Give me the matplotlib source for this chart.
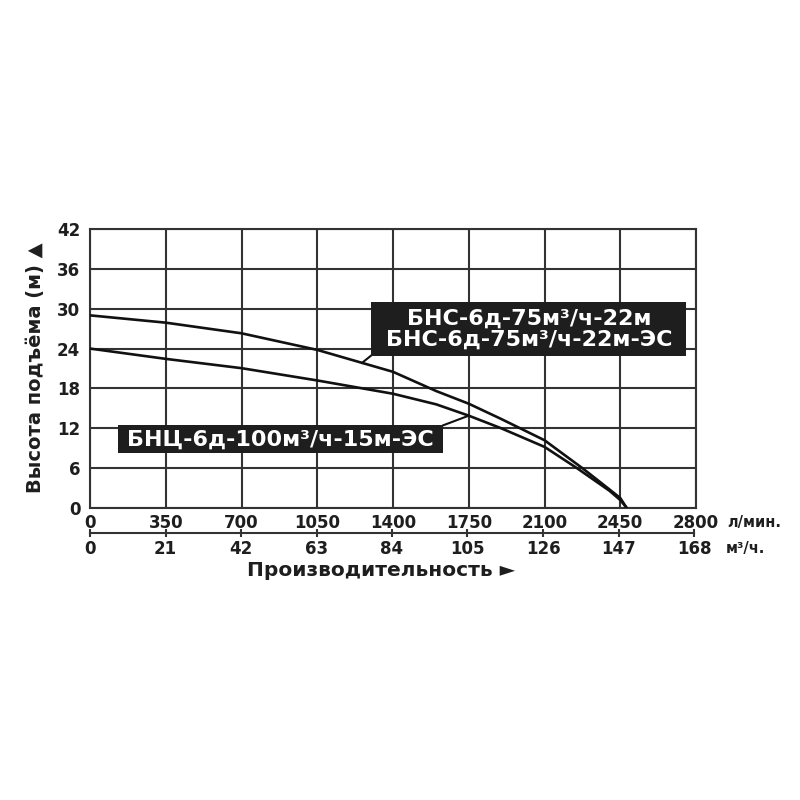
import matplotlib
matplotlib.use("Agg")
import matplotlib.pyplot as plt
from matplotlib.patches import Rectangle

plt.rcParams['font.family'] = ['DejaVu Sans']

# Data
flow_lmin_ticks = [0, 350, 700, 1050, 1400, 1750, 2100, 2450, 2800]
flow_m3h_ticks = [0, 21, 42, 63, 84, 105, 126, 147, 168]
head_ticks = [0, 6, 12, 18, 24, 30, 36, 42]

bns_q = [0, 350, 700, 1050, 1400, 1600, 1750, 1900, 2100, 2275, 2400, 2450, 2480]
bns_h = [29, 27.9, 26.3, 23.8, 20.5, 17.6, 15.7, 13.4, 10.2, 6.0, 2.8, 1.5, 0]

bnc_q = [0, 350, 700, 1050, 1400, 1600, 1750, 1900, 2100, 2250, 2400, 2450, 2480]
bnc_h = [24, 22.45, 21.05, 19.2, 17.2, 15.6, 13.9, 12.0, 9.2, 6.0, 2.6, 1.2, 0]

label_bns = "БНС-6д-75м³/ч-22м\nБНС-6д-75м³/ч-22м-ЭС"
label_bnc = "БНЦ-6д-100м³/ч-15м-ЭС"

fig = plt.figure(figsize=(8, 8), dpi=100)
ax = fig.add_axes([90/800, 1-508/800, 606/800, 279/800])
ax.set_xlim(0, 2800)
ax.set_ylim(0, 42)

grid_c = '#333333'
txt_c = '#1e1e1e'
ax.set_xticks(flow_lmin_ticks)
ax.set_yticks(head_ticks)
ax.grid(True, color=grid_c, linewidth=1.5)
for s in ax.spines.values():
    s.set_color(grid_c)
    s.set_linewidth(1.5)
ax.tick_params(axis='both', length=0, colors=txt_c)
ax.tick_params(axis='x', pad=4, labelsize=12)
ax.tick_params(axis='y', pad=7, labelsize=12)
for t in ax.get_xticklabels() + ax.get_yticklabels():
    t.set_fontweight('bold')

ax.plot(bns_q, bns_h, color='#111111', linewidth=1.9, zorder=3, solid_capstyle='round')
ax.plot(bnc_q, bnc_h, color='#111111', linewidth=1.9, zorder=3, solid_capstyle='round')

box_c = '#1e1e1e'
# upper label box
ax.add_patch(Rectangle((1299, 22.95), 2755.6-1299, 30.95-22.95, facecolor=box_c,
                       edgecolor='none', zorder=5, clip_on=False))
ax.text((1299+2755.6)/2, (22.95+30.95)/2, label_bns, color='white', fontsize=16,
        fontweight='bold', ha='center', va='center', zorder=6, linespacing=1.05)
ax.plot([1299, 1257], [22.95, 21.85], color='#111111', linewidth=1.5, zorder=4)

# lower label box
ax.add_patch(Rectangle((129.5, 8.25), 1632-129.5, 12.45-8.25, facecolor=box_c,
                       edgecolor='none', zorder=5, clip_on=False))
ax.text((129.5+1632)/2, (8.25+12.45)/2 - 0.1, label_bnc, color='white', fontsize=16,
        fontweight='bold', ha='center', va='center', zorder=6)
ax.plot([1632, 1750], [12.45, 13.9], color='#111111', linewidth=1.5, zorder=4)

# secondary flow scale (m3/h)
ax2 = fig.add_axes([90/800, 1-533/800, 604/800, 0.0001])
ax2.set_xlim(0, 168)
ax2.set_xticks(flow_m3h_ticks)
ax2.set_yticks([])
for k in ['top', 'left', 'right']:
    ax2.spines[k].set_visible(False)
ax2.spines['bottom'].set_color(grid_c)
ax2.spines['bottom'].set_linewidth(1.5)
ax2.patch.set_visible(False)
ax2.tick_params(axis='x', direction='inout', length=6, width=1.5, color=grid_c,
                pad=2, labelsize=12, labelcolor=txt_c)
for t in ax2.get_xticklabels():
    t.set_fontweight('bold')

fig.text(727/800, 1-527/800, "л/мин.", fontsize=10.5, fontweight='bold', color=txt_c,
         ha='left', va='baseline')
fig.text(726/800, 1-553/800, "м³/ч.", fontsize=10.5, fontweight='bold', color=txt_c,
         ha='left', va='baseline')

fig.text(36/800, 1-368/800, "Высота подъёма (м) ▲", rotation=90, fontsize=14,
         fontweight='bold', color=txt_c, ha='center', va='center')
fig.text(381/800, 1-571/800, "Производительность ►", fontsize=14.5,
         fontweight='bold', color=txt_c, ha='center', va='center')

fig.savefig('out.png', dpi=100, facecolor='white')
